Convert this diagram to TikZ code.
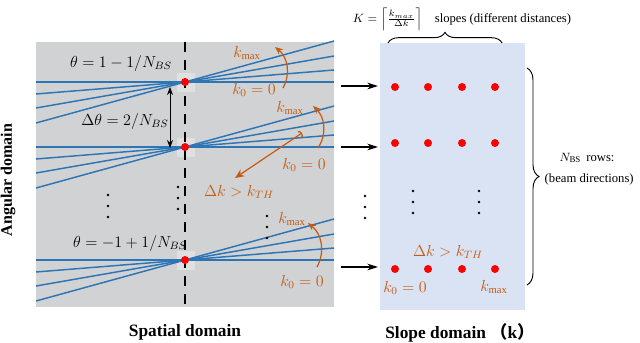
\documentclass[tikz,border=0pt]{standalone}
\usepackage{amsmath}
\usepackage{amssymb}
\usepackage{fontspec}
\setmainfont{Liberation Serif}
\newfontfamily\cjk{Noto Sans CJK SC}
\usepackage{xcolor}
\usetikzlibrary{arrows.meta,decorations.pathreplacing}
\definecolor{rustorange}{RGB}{197,90,17}
\definecolor{beamblue}{RGB}{46,117,182}
\definecolor{panelgray}{RGB}{209,210,212}
\definecolor{dotshade}{RGB}{224,224,224}
\definecolor{panelblue}{RGB}{218,227,243}

\begin{document}
\begin{tikzpicture}[x=0.75pt,y=-0.75pt,
  beam/.style={beamblue,line width=1.1pt},
  reddot/.style={circle,fill=red,inner sep=0pt,minimum size=6pt},
  mathlabel/.style={font=\fontsize{11.5}{13}\selectfont},
  orangelabel/.style={text=rustorange,font=\fontsize{12}{14}\selectfont},
  smalltext/.style={font=\fontsize{9.5}{11}\selectfont},
  domaintext/.style={font=\bfseries\fontsize{13}{15}\selectfont},
  orangearrow/.style={rustorange,line width=0.9pt,-{Stealth[length=6pt,width=5pt]}},
  feedarrow/.style={line width=0.9pt,-{Stealth[length=8pt,width=5pt]}}]
\useasboundingbox (0,0) rectangle (640,343);

% panels
\fill[panelgray] (36,42) rectangle (334,307);
\fill[panelblue] (380,43) rectangle (525,310);
\foreach \y in {82,147,260}
  \fill[dotshade] (177,\y-9) rectangle (195,\y+10);
\draw[line width=1.3pt,dash pattern=on 7.5pt off 6pt] (185,42) -- (185,307);

% beams through each direction
\foreach \y in {82,147,260}
  \foreach \d in {0,12,26,41}
    \draw[beam] (36,\y+\d) -- (334,\y-\d);

\node[reddot] (s1) at (185,82) {};
\node[reddot] (s2) at (185,147) {};
\node[reddot] (s3) at (185,260) {};

\node[mathlabel] (th1) at (121,63) {$\theta=1-1/N_{BS}$};
\node[mathlabel] (dth) at (125,121) {$\Delta\theta=2/N_{BS}$};
\node[mathlabel] (th3) at (130,243) {$\theta=-1+1/N_{BS}$};
\coordinate (dt1) at (170,87);
\coordinate (dt2) at (170,148);
\draw[{Stealth[length=6pt,width=4.5pt]}-{Stealth[length=6pt,width=4.5pt]},line width=0.7pt] (dt1) -- (dt2);

% slope ranges
\node[orangelabel] (kmax1) at (247,53) {$k_{\max}$};
\node[orangelabel] (kzero1) at (254,90) {$k_0=0$};
\node[orangelabel] (kmax2) at (290,108) {$k_{\max}$};
\node[orangelabel] (kzero2) at (304,165) {$k_0=0$};
\node[orangelabel] (kmax3) at (292,219) {$k_{\max}$};
\node[orangelabel] (kzero3) at (302,282) {$k_0=0$};
\node[orangelabel] (dk1) at (239,192) {$\Delta k>k_{TH}$};
\coordinate (a1s) at (283,88);
\coordinate (a1e) at (275,47);
\coordinate (a2s) at (318,148);
\coordinate (a2e) at (313,106);
\coordinate (a3s) at (317,267);
\coordinate (a3e) at (308,223);
\draw[orangearrow] (a1s) to[bend right=40] (a1e);
\draw[orangearrow] (a2s) to[bend right=40] (a2e);
\draw[orangearrow] (a3s) to[bend right=40] (a3e);
\coordinate (dka) at (302,133);
\coordinate (dkb) at (235,178);
\draw[rustorange,line width=0.9pt,{Arc Barb[length=2pt,width=6pt]}-{Stealth[length=7pt,width=6pt]}] (dka) -- (dkb);

% vertical dots
\foreach \x/\y in {108/195,178/187,267/216,365/196,413/191,479/191}
  \foreach \k in {0,1,2}
    \fill (\x,\y+11*\k) circle (1pt);

% feeding arrows
\coordinate (f1) at (341,86);
\coordinate (g1) at (378,86);
\coordinate (f2) at (341,147);
\coordinate (g2) at (378,147);
\coordinate (f3) at (341,267);
\coordinate (g3) at (378,267);
\draw[feedarrow] (f1) -- (g1);
\draw[feedarrow] (f2) -- (g2);
\draw[feedarrow] (f3) -- (g3);

% slope domain points
\foreach \i/\x in {1/395,2/428,3/462,4/495}
  \foreach \j/\y in {1/87,2/143,3/269}
    \node[reddot] (k\j\i) at (\x,\y) {};
\node[orangelabel] (dk2) at (448,252) {$\Delta k>k_{TH}$};
\node[orangelabel] (kzero4) at (405,288) {$k_0=0$};
\node[orangelabel] (kmax4) at (494,287) {$k_{\max}$};

% braces
\draw[line width=0.7pt,decorate,decoration={brace,amplitude=8pt}] (388,43) -- (502,43);
\draw[line width=0.7pt,decorate,decoration={brace,amplitude=9pt}] (527,68) -- (527,285);
\node[smalltext,anchor=base west,inner sep=0.5pt] (ktop) at (352,22) {$K=\Bigl\lceil\frac{k_{max}}{\Delta k}\Bigr\rceil$\quad slopes (different distances)};
\node[smalltext,anchor=west] (nrows) at (555,158) {$N_{\mathrm{BS}}$\, rows:};
\node[smalltext,anchor=west] (beamdir) at (540,179) {(beam directions)};

\node[domaintext] (spatial) at (185,332) {Spatial domain};
\node[domaintext] (slope) at (460,333) {Slope domain {\cjk （}k{\cjk ）}};
\node[domaintext,font=\bfseries\fontsize{12}{14}\selectfont,rotate=90] (angular) at (8,180) {Angular domain};
\end{tikzpicture}
\end{document}
